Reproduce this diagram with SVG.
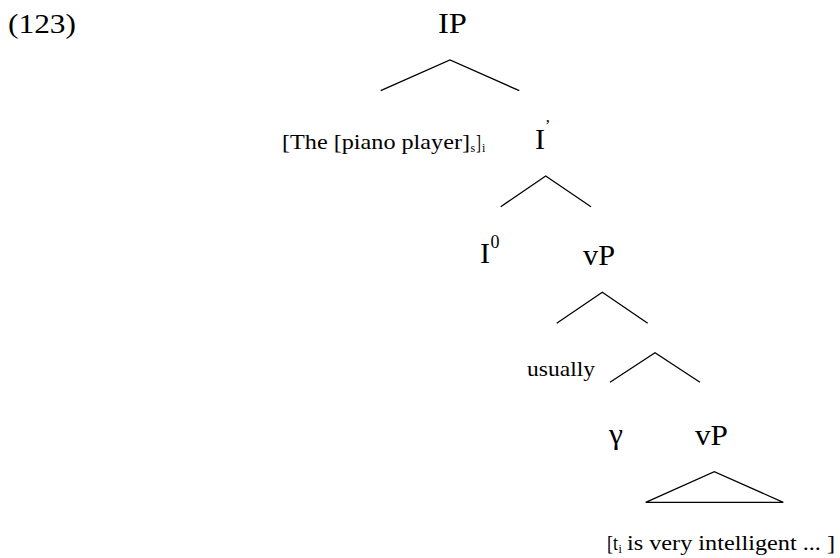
<svg xmlns="http://www.w3.org/2000/svg" width="840" height="558" viewBox="0 0 840 558">
<style>
text{font-family:"Liberation Serif","Times New Roman",serif;fill:#000}
.big{font-size:30px}
.sm{font-size:21px}
.sub{font-size:12px}
.edge{stroke:#000;stroke-width:1.3;fill:none}
</style>
<rect width="840" height="558" fill="#fff"/>
<text x="8" y="33" font-size="28" textLength="68" lengthAdjust="spacingAndGlyphs">(123)</text>
<g id="n-IP"><text class="big" x="438" y="33" textLength="29" lengthAdjust="spacingAndGlyphs">IP</text></g>
<g id="n-subject"><text class="sm" x="282" y="149" textLength="188" lengthAdjust="spacingAndGlyphs">[The [piano player]</text><text class="sub" x="470.5" y="152">s</text><text class="sm" x="476" y="149" textLength="5" lengthAdjust="spacingAndGlyphs">]</text><text class="sub" x="482" y="152">i</text></g>
<g id="n-Ibar"><text class="big" x="535" y="149">I</text><text x="545" y="131" font-size="16">’</text></g>
<g id="n-I0"><text class="big" x="480" y="263">I</text><text x="490.5" y="248" font-size="18">0</text></g>
<g id="n-vP1"><text class="big" x="583" y="265" textLength="32" lengthAdjust="spacingAndGlyphs">vP</text></g>
<g id="n-usually"><text x="527" y="376" font-size="22" textLength="68" lengthAdjust="spacingAndGlyphs">usually</text></g>
<g id="n-gamma"><text class="big" x="609" y="444" textLength="14" lengthAdjust="spacingAndGlyphs">γ</text></g>
<g id="n-vP2"><text class="big" x="695" y="445" textLength="33" lengthAdjust="spacingAndGlyphs">vP</text></g>
<g id="n-leaf"><text class="sm" x="607" y="550" textLength="11" lengthAdjust="spacingAndGlyphs">[t</text><text class="sub" x="618.5" y="553">i</text><text class="sm" x="627" y="550" textLength="208" lengthAdjust="spacingAndGlyphs">is very intelligent ... ]</text></g>
<g id="connectors" class="edge">
<polyline points="380.7,90.7 450,60 519.3,90.7"/>
<polyline points="500.7,206.7 545.7,176 591,206.7"/>
<polyline points="556.7,323.3 602.3,292.3 647.7,323.3"/>
<polyline points="610,382.3 655,352.7 700,382.3"/>
<polygon points="645.7,502.3 714.3,471.7 783.3,502.3"/>
</g>
</svg>
